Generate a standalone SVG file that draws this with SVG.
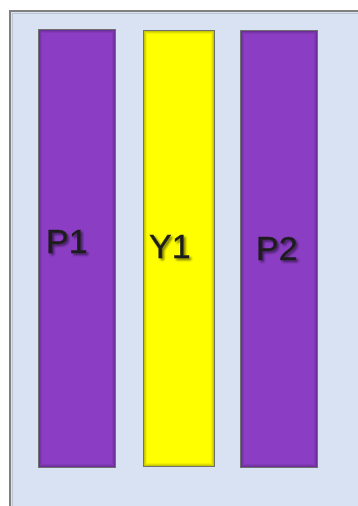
<svg xmlns="http://www.w3.org/2000/svg" width="358" height="506" viewBox="0 0 358 506">
<defs>
<filter id="tshadow" x="-20%" y="-20%" width="140%" height="140%">
<feGaussianBlur in="SourceAlpha" stdDeviation="1.3"/>
<feOffset dx="2" dy="2" result="b"/>
<feComponentTransfer in="b" result="s"><feFuncA type="linear" slope="0.5"/></feComponentTransfer>
<feMerge><feMergeNode in="s"/><feMergeNode in="SourceGraphic"/></feMerge>
</filter>
</defs>
<style>
.frame{fill:#d9e2f2;stroke:#808080;stroke-width:2}
.fsh{fill:none;stroke:#000;stroke-opacity:0.12;stroke-width:1}
.bar{stroke:#707070;stroke-width:1}
.p{fill:#8b3dc4}
.y{fill:#ffff00}
.in1{fill:none;stroke:#000;stroke-opacity:0.22;stroke-width:1}
.in2{fill:none;stroke:#000;stroke-opacity:0.13;stroke-width:1}
.in3{fill:none;stroke:#000;stroke-opacity:0.06;stroke-width:1}
.lbl{font-family:"Liberation Sans",Arial,sans-serif;font-size:34px;fill:#1e1e1e;stroke:#1e1e1e;stroke-width:0.4;filter:url(#tshadow)}
</style>
<rect x="0" y="0" width="358" height="506" fill="#ffffff"/>
<rect class="frame" x="10" y="11" width="360" height="510"/>
<rect class="fsh" x="12.5" y="13.5" width="360" height="510"/>
<g id="P1">
<rect class="bar p" x="38.5" y="29.5" width="77" height="438"/>
<rect class="in1" x="39.5" y="30.5" width="75" height="436"/>
<rect class="in2" x="40.5" y="31.5" width="73" height="434"/>
<rect class="in3" x="41.5" y="32.5" width="71" height="432"/>
<text class="lbl" x="46" y="253">P1</text>
</g>
<g id="Y1">
<rect class="bar y" x="143.5" y="30.5" width="71" height="436"/>
<rect class="in1" x="144.5" y="31.5" width="69" height="434"/>
<rect class="in2" x="145.5" y="32.5" width="67" height="432"/>
<rect class="in3" x="146.5" y="33.5" width="65" height="430"/>
<text class="lbl" x="149" y="258">Y1</text>
</g>
<g id="P2">
<rect class="bar p" x="240.5" y="30.5" width="77" height="437"/>
<rect class="in1" x="241.5" y="31.5" width="75" height="435"/>
<rect class="in2" x="242.5" y="32.5" width="73" height="433"/>
<rect class="in3" x="243.5" y="33.5" width="71" height="431"/>
<text class="lbl" x="256" y="260">P2</text>
</g>
<g id="connectors"/>
</svg>
